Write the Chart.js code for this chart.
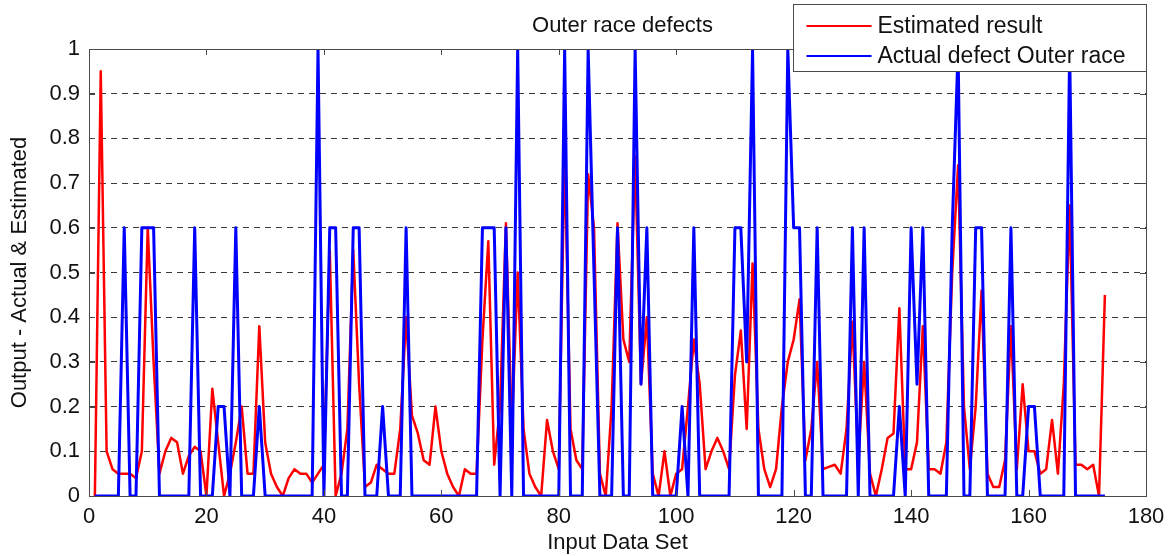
<!DOCTYPE html>
<html>
<head>
<meta charset="utf-8">
<title>Outer race defects</title>
<script src="https://cdn.jsdelivr.net/npm/chart.js@4.4.1/dist/chart.umd.min.js"></script>
<style>
  html, body { margin: 0; padding: 0; background: #fff; }
  #chart { display: block; }
</style>
</head>
<body>
<canvas id="chart" width="1174" height="556"></canvas>
<script>
// values, one per input data set (1..173)
var estimated = [
  0, 0.95, 0.1, 0.06, 0.05, 0.05, 0.05, 0.04, 0.1, 0.6,
  0.3, 0.05, 0.1, 0.13, 0.12, 0.05, 0.09, 0.11, 0.1, 0,
  0.24, 0.12, 0, 0.05, 0.12, 0.2, 0.05, 0.05, 0.38, 0.12,
  0.05, 0.02, 0, 0.04, 0.06, 0.05, 0.05, 0.03, 0.05, 0.07,
  0.55, 0, 0.05, 0.15, 0.55, 0.25, 0.02, 0.03, 0.07, 0.06,
  0.05, 0.05, 0.15, 0.4, 0.18, 0.14, 0.08, 0.07, 0.2, 0.1,
  0.05, 0.02, 0, 0.06, 0.05, 0.05, 0.35, 0.57, 0.07, 0.2,
  0.61, 0.15, 0.5, 0.15, 0.05, 0.02, 0, 0.17, 0.1, 0.06,
  0.77, 0.15, 0.08, 0.06, 0.72, 0.6, 0.05, 0, 0.2, 0.61,
  0.35, 0.3, 0.76, 0.25, 0.4, 0.05, 0, 0.1, 0, 0.05,
  0.06, 0.2, 0.35, 0.25, 0.06, 0.1, 0.13, 0.1, 0.06, 0.27,
  0.37, 0.15, 0.52, 0.15, 0.06, 0.02, 0.06, 0.2, 0.3, 0.35,
  0.44, 0.08, 0.15, 0.3, 0.06, 0.065, 0.07, 0.05, 0.15, 0.39,
  0.08, 0.3, 0.05, 0, 0.06, 0.13, 0.14, 0.42, 0.06, 0.06,
  0.12, 0.38, 0.06, 0.06, 0.05, 0.12, 0.5, 0.74, 0.2, 0.06,
  0.2, 0.46, 0.05, 0.02, 0.02, 0.08, 0.38, 0.06, 0.25, 0.1,
  0.1, 0.05, 0.06, 0.17, 0.05, 0.25, 0.65, 0.07, 0.07, 0.06,
  0.07, 0, 0.45
];
var actual = [
  0, 0, 0, 0, 0, 0.6, 0, 0, 0.6, 0.6,
  0.6, 0, 0, 0, 0, 0, 0, 0.6, 0, 0,
  0, 0.2, 0.2, 0, 0.6, 0, 0, 0, 0.2, 0,
  0, 0, 0, 0, 0, 0, 0, 0, 1, 0,
  0.6, 0.6, 0, 0, 0.6, 0.6, 0, 0, 0, 0.2,
  0, 0, 0, 0.6, 0, 0, 0, 0, 0, 0,
  0, 0, 0, 0, 0, 0, 0.6, 0.6, 0.6, 0,
  0.6, 0, 1, 0, 0, 0, 0, 0, 0, 0,
  1, 0, 0, 0, 1, 0.5, 0, 0, 0, 0.6,
  0, 0, 1, 0.25, 0.6, 0, 0, 0, 0, 0,
  0.2, 0, 0.6, 0, 0, 0, 0, 0, 0, 0.6,
  0.6, 0.3, 1, 0, 0, 0, 0, 0, 1, 0.6,
  0.6, 0, 0, 0.6, 0, 0, 0, 0, 0, 0.6,
  0, 0.6, 0, 0, 0, 0, 0, 0.2, 0, 0.6,
  0.25, 0.6, 0, 0, 0, 0, 0.6, 1, 0, 0,
  0.6, 0.6, 0, 0, 0, 0, 0.6, 0, 0, 0.2,
  0.2, 0, 0, 0, 0, 0, 1, 0, 0, 0,
  0, 0, 0
];
var xTicks = [0, 20, 40, 60, 80, 100, 120, 140, 160, 180];
var yTicks = [0, 0.1, 0.2, 0.3, 0.4, 0.5, 0.6, 0.7, 0.8, 0.9, 1];
var seriesNames = ['Estimated result', 'Actual defect Outer race'];
var seriesColors = ['#ff0000', '#0000ff'];
var chartTitle = 'Outer race defects';
var xTitle = 'Input Data Set';
var yTitle = 'Output - Actual & Estimated';

var FONT = "'Liberation Sans', Arial, sans-serif";
var frameColor = '#4a4a4a';

function toPoints(values) {
  return values.map(function (v, i) {
    return { x: i + 1, y: v };
  });
}

// frame, inward ticks, title and the boxed legend (MATLAB style)
var matlabFrame = {
  id: 'matlabFrame',
  afterDatasetsDraw: function (chart) {
    var ctx = chart.ctx;
    var a = chart.chartArea;
    var xs = chart.scales.x, ys = chart.scales.y;
    ctx.save();
    ctx.strokeStyle = frameColor;
    ctx.lineWidth = 1;
    ctx.beginPath();
    xTicks.forEach(function (t) {
      var px = Math.round(xs.getPixelForValue(t)) + 0.5;
      ctx.moveTo(px, a.top); ctx.lineTo(px, a.top + 6);
      ctx.moveTo(px, a.bottom); ctx.lineTo(px, a.bottom - 6);
    });
    yTicks.forEach(function (t) {
      var py = Math.round(ys.getPixelForValue(t)) + 0.5;
      ctx.moveTo(a.left, py); ctx.lineTo(a.left + 6, py);
      ctx.moveTo(a.right, py); ctx.lineTo(a.right - 6, py);
    });
    ctx.stroke();
    ctx.strokeRect(Math.round(a.left) + 0.5, Math.round(a.top) + 0.5,
      Math.round(a.right - a.left), Math.round(a.bottom - a.top));

    // title
    ctx.fillStyle = '#111';
    ctx.font = '22px ' + FONT;
    ctx.textAlign = 'center';
    ctx.textBaseline = 'middle';
    ctx.fillText(chartTitle, (a.left + a.right) / 2 + 5, 26);

    // legend box
    var bx = Math.round(a.right) - 352.5, by = 4.5, bw = 353, bh = 67;
    ctx.fillStyle = '#fff';
    ctx.fillRect(bx, by, bw, bh);
    ctx.strokeStyle = frameColor;
    ctx.strokeRect(bx, by, bw, bh);
    ctx.font = '23px ' + FONT;
    ctx.textAlign = 'left';
    seriesNames.forEach(function (name, i) {
      var ly = 26 + i * 30;
      ctx.strokeStyle = seriesColors[i];
      ctx.lineWidth = 2;
      ctx.beginPath();
      ctx.moveTo(bx + 13, ly);
      ctx.lineTo(bx + 78, ly);
      ctx.stroke();
      ctx.fillStyle = '#111';
      ctx.fillText(name, bx + 84, ly + 1);
    });
    ctx.restore();
  }
};

var ctx = document.getElementById('chart').getContext('2d');
var chart = new Chart(ctx, {
  type: 'line',
  data: {
    datasets: [{
      label: seriesNames[0],
      data: toPoints(estimated),
      borderColor: seriesColors[0],
      borderWidth: 2.5,
      order: 2
    }, {
      label: seriesNames[1],
      data: toPoints(actual),
      borderColor: seriesColors[1],
      borderWidth: 3,
      order: 1
    }]
  },
  options: {
    responsive: false,
    devicePixelRatio: 1,
    animation: false,
    parsing: true,
    elements: {
      point: { radius: 0, hoverRadius: 0 },
      line: { tension: 0, fill: false, borderJoinStyle: 'round' }
    },
    layout: { padding: { top: 49, right: 28, left: 0, bottom: 0 } },
    plugins: {
      legend: { display: false },
      title: { display: false },
      tooltip: { enabled: false }
    },
    scales: {
      x: {
        type: 'linear',
        min: 0,
        max: 180,
        afterFit: function (scale) { scale.height = 60; },
        afterBuildTicks: function (scale) {
          scale.ticks = xTicks.map(function (v) { return { value: v }; });
        },
        ticks: {
          padding: 8,
          color: '#111',
          font: { family: FONT, size: 22 },
          maxRotation: 0
        },
        grid: { display: false, drawTicks: false },
        border: { display: false },
        title: {
          display: true,
          text: xTitle,
          color: '#111',
          font: { family: FONT, size: 22 },
          padding: { top: 0, bottom: 0 }
        }
      },
      y: {
        min: 0,
        max: 1,
        afterFit: function (scale) { scale.width = 89; },
        afterBuildTicks: function (scale) {
          scale.ticks = yTicks.map(function (v) { return { value: v }; });
        },
        ticks: {
          padding: 9,
          color: '#111',
          font: { family: FONT, size: 22 },
          callback: function (v) { return String(v); }
        },
        grid: {
          drawTicks: false,
          lineWidth: 1,
          color: function (c) {
            var v = c.tick ? c.tick.value : 0;
            return (v > 0.001 && v < 0.999) ? '#3a3a3a' : 'rgba(0,0,0,0)';
          }
        },
        border: { display: false, dash: [6, 5] },
        title: {
          display: true,
          text: yTitle,
          color: '#111',
          font: { family: FONT, size: 22 },
          padding: { top: 7, bottom: 0 }
        }
      }
    }
  },
  plugins: [matlabFrame]
});
</script>
</body>
</html>
